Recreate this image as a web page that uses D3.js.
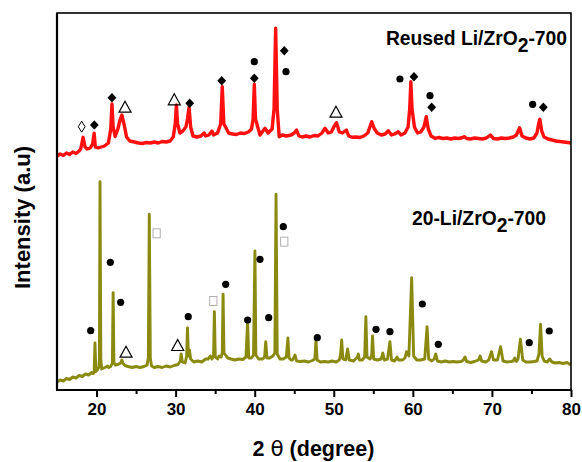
<!DOCTYPE html>
<html><head><meta charset="utf-8">
<script src="https://cdn.jsdelivr.net/npm/d3@7"></script>
<style>
body{margin:0;background:#fff}
svg text{font-family:"Liberation Sans",Arial,sans-serif;font-weight:bold;fill:#000}
</style>
</head><body><svg id="c" width="582" height="462"></svg>
<script>
// ---- data ----
const xTicks = [20, 30, 40, 50, 60, 70, 80];
const xMinorTicks = [25, 35, 45, 55, 65, 75];
const xTitle = ["2 ", "θ", " (degree)"];
const yTitle = "Intensity (a.u)";
const reusedLabel = ["Reused Li/ZrO", "2", "-700"];
const freshLabel = ["20-Li/ZrO", "2", "-700"];

// [2θ, intensity a.u.]
const reusedPattern = [
[15.0,2330],[15.4,2350],[15.8,2335],[16.2,2360],[16.6,2345],[17.0,2370],[17.4,2355],[17.8,2380],
[18.0,2400],[18.3,2517],[18.55,2420],[18.8,2400],[19.2,2410],[19.5,2450],[19.7,2557],[19.85,2420],
[20.2,2410],[20.6,2420],[21.0,2430],[21.5,2460],[21.8,2600],[21.95,2850],[22.1,2620],[22.35,2525],
[22.7,2600],[23.0,2700],[23.2,2740],[23.5,2640],[23.8,2520],[24.2,2480],[24.8,2470],[25.3,2460],
[25.8,2455],[26.3,2465],[26.8,2460],[27.3,2470],[27.8,2460],[28.3,2475],[28.8,2470],[29.3,2480],
[29.7,2520],[29.95,2650],[30.1,2840],[30.25,2650],[30.55,2560],[30.9,2580],[31.3,2620],[31.5,2700],
[31.7,2817],[31.9,2620],[32.2,2530],[32.7,2520],[33.2,2530],[33.6,2560],[33.8,2530],[34.2,2540],
[34.6,2580],[34.8,2540],[35.3,2560],[35.7,2650],[35.9,3023],[36.1,2650],[36.4,2607],[36.7,2560],
[37.2,2550],[37.7,2545],[38.2,2560],[38.7,2555],[39.2,2570],[39.6,2600],[39.8,2700],[39.95,3047],
[40.1,2700],[40.67,2540],[41.3,2607],[41.7,2560],[42.2,2600],[42.45,2800],[42.65,3607],[42.85,2800],
[43.1,2523],[43.5,2540],[44.0,2530],[44.6,2540],[45.0,2560],[45.3,2590],[45.6,2530],[46.0,2520],
[46.5,2530],[47.0,2520],[47.5,2535],[48.0,2530],[48.5,2560],[48.9,2607],[49.3,2560],[49.7,2570],
[50.0,2620],[50.35,2663],[50.7,2570],[51.1,2560],[51.6,2590],[51.9,2530],[52.3,2517],[52.8,2520],
[53.3,2515],[53.8,2530],[54.3,2560],[54.8,2673],[55.1,2607],[55.5,2560],[56.0,2540],[56.5,2550],
[56.9,2583],[57.3,2540],[57.7,2550],[58.16,2573],[58.5,2540],[59.0,2560],[59.4,2620],[59.6,2800],
[59.75,3073],[59.9,2800],[60.2,2620],[60.6,2560],[61.0,2570],[61.4,2620],[61.7,2723],[61.95,2600],
[62.3,2530],[62.8,2507],[63.3,2515],[63.8,2505],[64.3,2510],[64.8,2500],[65.3,2510],[65.8,2505],
[66.3,2515],[66.5,2523],[66.8,2505],[67.3,2500],[67.8,2510],[68.3,2505],[68.8,2500],[69.3,2510],
[69.8,2540],[70.2,2505],[70.7,2500],[71.2,2510],[71.7,2505],[72.2,2510],[72.7,2520],[73.1,2540],
[73.5,2613],[73.8,2530],[74.3,2510],[74.8,2500],[75.3,2510],[75.7,2560],[75.9,2650],[76.06,2697],
[76.3,2580],[76.6,2520],[77.1,2500],[77.6,2490],[78.1,2480],[78.6,2475],[79.1,2470],[79.6,2465],[80.0,2460]
];

const freshPattern = [
[15.0,70],[15.4,90],[15.8,80],[16.2,105],[16.6,95],[17.0,120],[17.4,110],[17.8,135],[18.2,125],
[18.6,150],[19.0,140],[19.4,165],[19.6,155],[19.7,170],[19.8,460],[19.92,175],[20.1,190],[20.3,220],
[20.36,300],[20.44,2073],[20.54,300],[20.65,200],[20.9,210],[21.2,220],[21.4,230],[21.55,215],
[21.8,225],[22.0,260],[22.1,963],[22.2,260],[22.4,240],[22.7,245],[23.05,260],[23.2,290],[23.35,255],
[23.6,235],[24.0,225],[24.5,215],[25.0,225],[25.5,215],[26.0,225],[26.4,240],[26.55,320],[26.67,1747],
[26.8,310],[26.95,230],[27.3,215],[27.8,225],[28.3,215],[28.8,230],[29.3,220],[29.8,235],[30.3,245],
[30.6,280],[30.7,350],[30.85,270],[31.2,260],[31.4,330],[31.5,610],[31.62,330],[31.75,390],[31.9,300],
[32.3,270],[32.8,280],[33.3,270],[33.8,300],[34.1,300],[34.4,330],[34.6,300],[34.8,330],[34.9,773],
[35.02,320],[35.3,300],[35.5,330],[35.75,320],[35.9,360],[36.0,947],[36.12,360],[36.4,330],[36.6,310],
[37.0,300],[37.5,290],[38.0,300],[38.5,295],[38.9,320],[39.1,673],[39.25,310],[39.6,310],[39.85,340],
[40.03,1380],[40.15,340],[40.5,300],[41.0,300],[41.25,320],[41.4,473],[41.55,310],[41.9,310],[42.3,330],
[42.55,360],[42.7,1947],[42.85,350],[43.2,300],[43.6,300],[44.0,320],[44.2,510],[44.35,310],[44.6,290],
[44.8,290],[45.1,340],[45.3,280],[45.8,275],[46.3,280],[46.8,270],[47.3,285],[47.6,300],[47.75,490],
[47.9,290],[48.3,270],[48.8,275],[49.3,270],[49.8,280],[50.3,270],[50.7,290],[50.85,340],[51.0,490],
[51.15,300],[51.5,290],[51.75,400],[51.95,290],[52.5,280],[53.0,320],[53.1,350],[53.25,290],[53.6,290],
[53.9,320],[54.06,723],[54.2,320],[54.6,300],[54.8,340],[54.9,530],[55.05,300],[55.5,290],[56.0,300],
[56.2,360],[56.4,290],[56.8,300],[57.1,473],[57.3,290],[57.7,280],[58.0,320],[58.2,290],[58.7,290],
[59.0,310],[59.2,373],[59.5,330],[59.85,1113],[60.1,330],[60.5,290],[61.0,290],[61.5,300],[61.8,623],
[62.0,300],[62.4,280],[62.7,300],[62.9,350],[63.1,280],[63.6,270],[64.1,280],[64.6,270],[65.1,275],
[65.6,270],[66.1,275],[66.4,290],[66.6,320],[66.8,275],[67.3,265],[67.8,275],[68.3,290],[68.5,330],
[68.7,280],[69.2,270],[69.6,290],[69.95,373],[70.2,290],[70.7,290],[71.1,423],[71.4,280],[71.9,270],
[72.4,275],[72.7,280],[72.9,310],[73.1,275],[73.3,300],[73.6,497],[73.9,290],[74.3,270],[74.8,270],
[75.3,275],[75.7,280],[75.95,350],[76.15,647],[76.35,330],[76.6,280],[77.0,270],[77.3,300],[77.6,270],
[78.0,260],[78.5,265],[79.0,255],[79.5,265],[80.0,240]
];

// phase markers: [2θ, intensity, kind]
const reusedMarkers = [
[18.12,2623,"odiamond"],[19.72,2640,"diamond"],[21.95,2913,"diamond"],[23.6,2823,"triangle"],
[29.83,2897,"triangle"],[31.78,2857,"diamond"],[35.83,3083,"diamond"],[39.95,3107,"diamond"],
[39.95,3273,"circle"],[43.74,3383,"diamond"],[43.96,3173,"circle"],[50.28,2773,"triangle"],
[58.37,3100,"circle"],[60.14,3123,"diamond"],[62.17,2933,"circle"],[62.38,2817,"diamond"],
[75.15,2847,"circle"],[76.5,2817,"diamond"]
];
const freshMarkers = [
[19.26,583,"circle"],[21.74,1267,"circle"],[23.05,867,"circle"],[23.73,373,"triangle"],
[27.6,1557,"square"],[30.26,440,"triangle"],[31.6,723,"circle"],[34.77,880,"square"],
[36.33,1047,"circle"],[39.11,690,"circle"],[40.67,1297,"circle"],[41.77,713,"circle"],
[43.62,1623,"circle"],[43.74,1473,"square"],[47.92,513,"circle"],[55.34,597,"circle"],
[57.1,573,"circle"],[61.2,850,"circle"],[63.22,447,"circle"],[74.72,463,"circle"],[77.25,580,"circle"]
];

// ---- layout ----
const L = 57, R = 571, T = 13, B = 390;
const svg = d3.select("#c");
const x = d3.scaleLinear().domain([15, 80]).range([L, R]);
const y = d3.scaleLinear().domain([0, 3760]).range([B - 1, T]);

svg.append("clipPath").attr("id", "clip").append("rect")
  .attr("x", L).attr("y", T).attr("width", R - L).attr("height", B - T);

const line = d3.line().x(d => x(d[0])).y(d => y(d[1]));
svg.append("path").datum(freshPattern).attr("d", line).attr("clip-path", "url(#clip)")
  .attr("fill", "none").attr("stroke", "#8a8a10").attr("stroke-width", 2.9).attr("stroke-linejoin", "round");
svg.append("path").datum(reusedPattern).attr("d", line).attr("clip-path", "url(#clip)")
  .attr("fill", "none").attr("stroke", "#ff0f0f").attr("stroke-width", 3.4).attr("stroke-linejoin", "round");

// markers
function drawMarkers(list) {
  list.forEach(([t, v, k]) => {
    const g = svg.append("g").attr("transform", `translate(${x(t)},${y(v)})`);
    if (k === "circle") g.append("circle").attr("r", 3.6).attr("fill", "#000");
    else if (k === "diamond") g.append("path").attr("d", "M0,-4.8L4.4,0L0,4.8L-4.4,0Z").attr("fill", "#000");
    else if (k === "odiamond") g.append("path").attr("d", "M0,-5.5L3.4,0L0,5.5L-3.4,0Z")
      .attr("fill", "#fff").attr("stroke", "#000").attr("stroke-width", 1);
    else if (k === "triangle") g.append("path").attr("d", "M0,-5.5L6,5.5L-6,5.5Z")
      .attr("fill", "none").attr("stroke", "#000").attr("stroke-width", 1.2);
    else if (k === "square") g.append("rect").attr("x", -3.6).attr("y", -4.5).attr("width", 7.2).attr("height", 9)
      .attr("fill", "#fff").attr("stroke", "#b0b0b0").attr("stroke-width", 1);
  });
}
drawMarkers(reusedMarkers);
drawMarkers(freshMarkers);

// frame
svg.append("rect").attr("x", L).attr("y", T).attr("width", R - L).attr("height", B - T)
  .attr("fill", "none").attr("stroke", "#000").attr("stroke-width", 1.6);
svg.append("line").attr("x1", L).attr("x2", L).attr("y1", T).attr("y2", B).attr("stroke", "#000").attr("stroke-width", 2.2);
svg.append("line").attr("x1", L - 1).attr("x2", R + 1).attr("y1", B).attr("y2", B).attr("stroke", "#000").attr("stroke-width", 2.2);

// x axis
const ax = svg.append("g").attr("transform", `translate(0,${B})`)
  .call(d3.axisBottom(x).tickValues(xTicks).tickSize(7).tickPadding(6).tickFormat(d3.format("d")));
ax.select(".domain").remove();
ax.selectAll(".tick line").attr("stroke-width", 2);
ax.selectAll(".tick text").style("font-size", "17px").attr("fill", "#000");
const axm = svg.append("g").attr("transform", `translate(0,${B})`)
  .call(d3.axisBottom(x).tickValues(xMinorTicks).tickSize(4).tickFormat(""));
axm.select(".domain").remove();
axm.selectAll(".tick line").attr("stroke-width", 2);

// titles
const xt = svg.append("text").attr("x", 313.5).attr("y", 456).attr("text-anchor", "middle").style("font-size", "21.5px");
xt.append("tspan").text(xTitle[0]);
xt.append("tspan").text(xTitle[1]).style("font-weight", "normal").style("font-family", "'DejaVu Sans',sans-serif");
xt.append("tspan").text(xTitle[2]);

svg.append("text").attr("transform", `translate(22,${(143 + 292) / 2}) rotate(-90)`)
  .attr("text-anchor", "middle").attr("dominant-baseline", "central").style("font-size", "22px").text(yTitle);

// series labels
const l1 = svg.append("text").attr("x", 567).attr("y", 45).attr("text-anchor", "end").style("font-size", "19.3px");
l1.append("tspan").text(reusedLabel[0]);
l1.append("tspan").attr("dy", 7).text(reusedLabel[1]);
l1.append("tspan").attr("dy", -7).text(reusedLabel[2]);
const l2 = svg.append("text").attr("x", 412).attr("y", 225).attr("text-anchor", "start").style("font-size", "19.3px");
l2.append("tspan").text(freshLabel[0]);
l2.append("tspan").attr("dy", 7).text(freshLabel[1]);
l2.append("tspan").attr("dy", -7).text(freshLabel[2]);
</script>
</body></html>
